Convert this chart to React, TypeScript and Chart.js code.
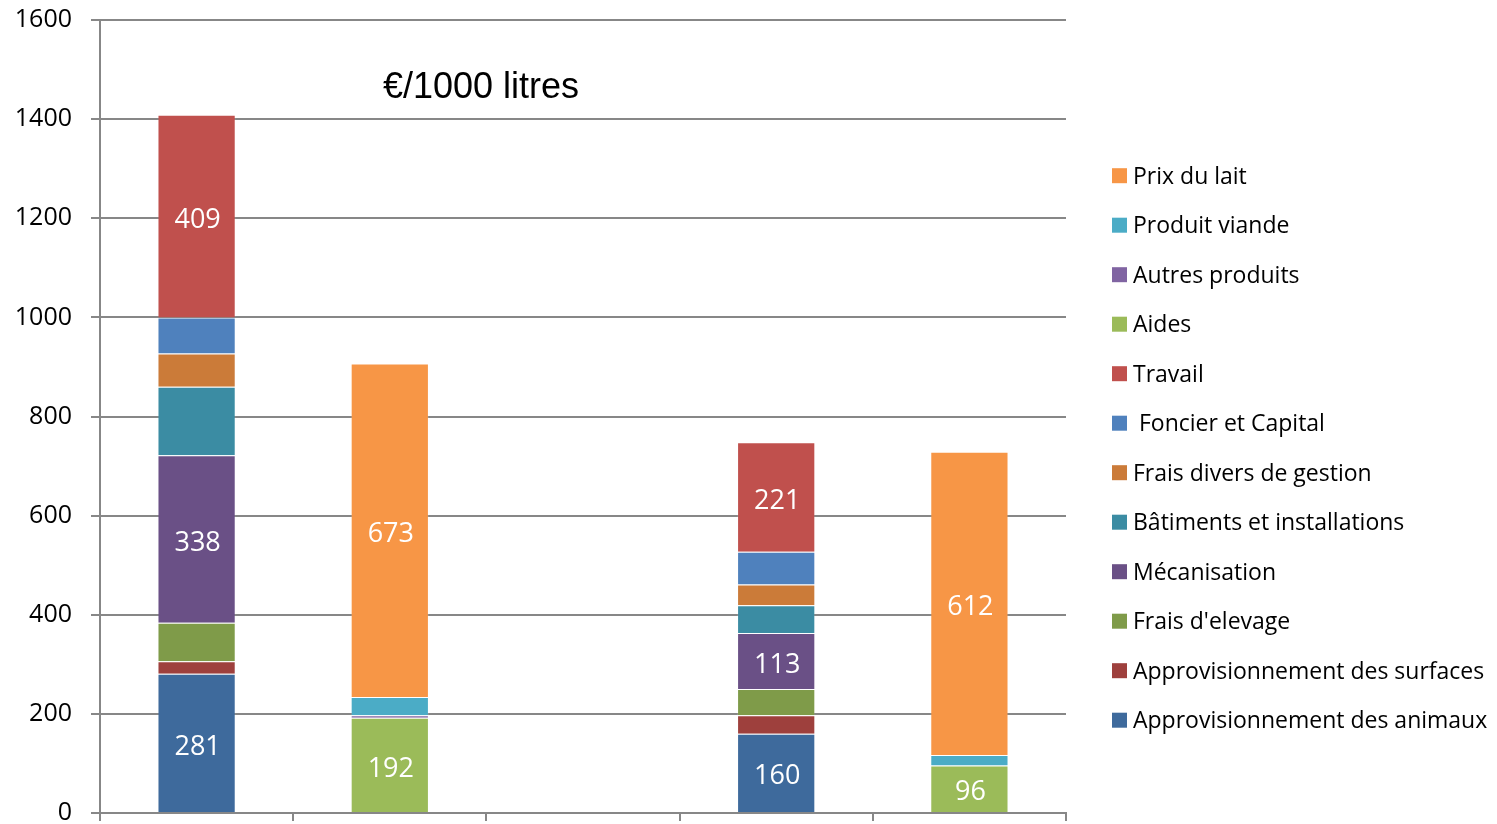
import React, { useEffect, useRef } from 'react';
import { Chart, registerables } from 'chart.js';

Chart.register(...registerables);

// ---- data ----
const categories = ['', '', '', '', ''];
const chartTitle = '€/1000 litres';
const yMin = 0;
const yMax = 1600;
const yStep = 200;

const seriesNames = [
  'Approvisionnement des animaux',
  'Approvisionnement des surfaces',
  "Frais d'elevage",
  'Mécanisation',
  'Bâtiments et installations',
  'Frais divers de gestion',
  ' Foncier et Capital',
  'Travail',
  'Aides',
  'Autres produits',
  'Produit viande',
  'Prix du lait',
];

const approvisionnementAnimaux = [281, null, null, 160, null];
const approvisionnementSurfaces = [25, null, null, 37, null];
const fraisElevage = [78, null, null, 53, null];
const mecanisation = [338, null, null, 113, null];
const batiments = [138, null, null, 56, null];
const fraisDivers = [67, null, null, 42, null];
const foncierCapital = [73, null, null, 66, null];
const travail = [409, null, null, 221, null];
const aides = [null, 192, null, null, 96];
const autresProduits = [null, 5, null, null, 0];
const produitViande = [null, 37, null, null, 21];
const prixLait = [null, 673, null, null, 612];

const seriesValues = [
  approvisionnementAnimaux,
  approvisionnementSurfaces,
  fraisElevage,
  mecanisation,
  batiments,
  fraisDivers,
  foncierCapital,
  travail,
  aides,
  autresProduits,
  produitViande,
  prixLait,
];

const seriesColors = [
  '#3E6A9C',
  '#9E403D',
  '#7F9B49',
  '#6A5086',
  '#3B8CA3',
  '#CB7B39',
  '#4F81BD',
  '#C0504D',
  '#9BBB59',
  '#8064A2',
  '#4BACC6',
  '#F79646',
];

const labelledSeries = [
  'Approvisionnement des animaux',
  'Mécanisation',
  'Travail',
  'Aides',
  'Prix du lait',
];

const FONT = '"Open Sans", "Noto Sans", sans-serif';
const GRID = '#878787';

const titlePlugin = {
  id: 'innerTitle',
  afterDraw(chart: any) {
    const { ctx, chartArea } = chart;
    ctx.save();
    ctx.font = '36px "Liberation Sans", Arial, sans-serif';
    ctx.fillStyle = '#000';
    ctx.textAlign = 'left';
    ctx.textBaseline = 'alphabetic';
    ctx.fillText(chartTitle, chartArea.left + 283, chartArea.top + 78);
    ctx.restore();
  },
};

const valueLabelPlugin = {
  id: 'valueLabels',
  afterDatasetsDraw(chart: any) {
    const ctx = chart.ctx;
    const size = 27;
    ctx.save();
    ctx.font = `${size}px ${FONT}`;
    ctx.fillStyle = '#FFFFFF';
    ctx.textAlign = 'center';
    ctx.textBaseline = 'alphabetic';
    chart.data.datasets.forEach((ds: any, di: number) => {
      if (!labelledSeries.includes(ds.label)) return;
      const meta = chart.getDatasetMeta(di);
      meta.data.forEach((bar: any, i: number) => {
        const v = ds.data[i];
        if (v == null || v === 0) return;
        const { x, y, base } = bar.getProps(['x', 'y', 'base'], true);
        const cy = (y + base) / 2 + 2;
        ctx.fillText(String(v), x + 1, cy + size * 0.357);
      });
    });
    ctx.restore();
  },
};

const sideLegendPlugin = {
  id: 'sideLegend',
  afterDraw(chart: any) {
    const { ctx, chartArea } = chart;
    const size = 23;
    const items = chart.data.datasets
      .map((d: any) => ({ text: d.label, color: d.backgroundColor }))
      .reverse();
    ctx.save();
    ctx.font = `${size}px ${FONT}`;
    ctx.textAlign = 'left';
    ctx.textBaseline = 'alphabetic';
    items.forEach((it: any, i: number) => {
      const cy = chartArea.top + 155.7 + i * 49.5;
      ctx.fillStyle = it.color;
      ctx.fillRect(chartArea.right + 46, cy - 7.5, 15, 15);
      ctx.fillStyle = '#000';
      ctx.fillText(it.text, chartArea.right + 67, cy + size * 0.357);
    });
    ctx.restore();
  },
};

export default function App() {
  const canvasRef = useRef<HTMLCanvasElement | null>(null);

  useEffect(() => {
    document.body.style.margin = '0';
    const canvas = canvasRef.current;
    if (!canvas) return;

    const chart = new Chart(canvas, {
      type: 'bar',
      data: {
        labels: categories,
        datasets: seriesNames.map((name, i) => ({
          label: name,
          data: seriesValues[i],
          backgroundColor: seriesColors[i],
          borderColor: 'rgba(255,255,255,0.12)',
          borderWidth: 1,
          categoryPercentage: 1,
          barPercentage: 0.405,
        })),
      },
      options: {
        animation: false,
        responsive: false,
        maintainAspectRatio: false,
        layout: { padding: { left: 0, top: 20, right: 431, bottom: 0 } },
        plugins: {
          legend: { display: false },
          title: { display: false },
          tooltip: { enabled: false },
        },
        scales: {
          x: {
            stacked: true,
            offset: true,
            ticks: { display: false },
            grid: {
              display: true,
              drawOnChartArea: false,
              drawTicks: true,
              tickLength: 8,
              offset: true,
              color: GRID,
              lineWidth: 2,
            },
            border: { display: true, color: GRID, width: 2 },
            afterFit(scale: any) {
              scale.height = 11;
              scale.paddingLeft = 0;
              scale.paddingRight = 0;
            },
          },
          y: {
            stacked: true,
            min: yMin,
            max: yMax,
            ticks: {
              stepSize: yStep,
              padding: 19,
              color: '#000',
              font: { family: FONT, size: 25 },
              callback: (v: any) => String(v),
            },
            grid: {
              color: GRID,
              lineWidth: 2,
              drawTicks: true,
              tickLength: 9,
            },
            border: { display: true, color: GRID, width: 2 },
            afterFit(scale: any) {
              scale.width = 100;
              scale.paddingTop = 0;
              scale.paddingBottom = 0;
            },
          },
        },
      },
      plugins: [valueLabelPlugin, titlePlugin, sideLegendPlugin],
    } as any);

    return () => {
      chart.destroy();
    };
  }, []);

  return (
    <div style={{ width: 1497, height: 824, background: '#fff' }}>
      <canvas ref={canvasRef} width={1497} height={824} style={{ display: 'block' }} />
    </div>
  );
}
